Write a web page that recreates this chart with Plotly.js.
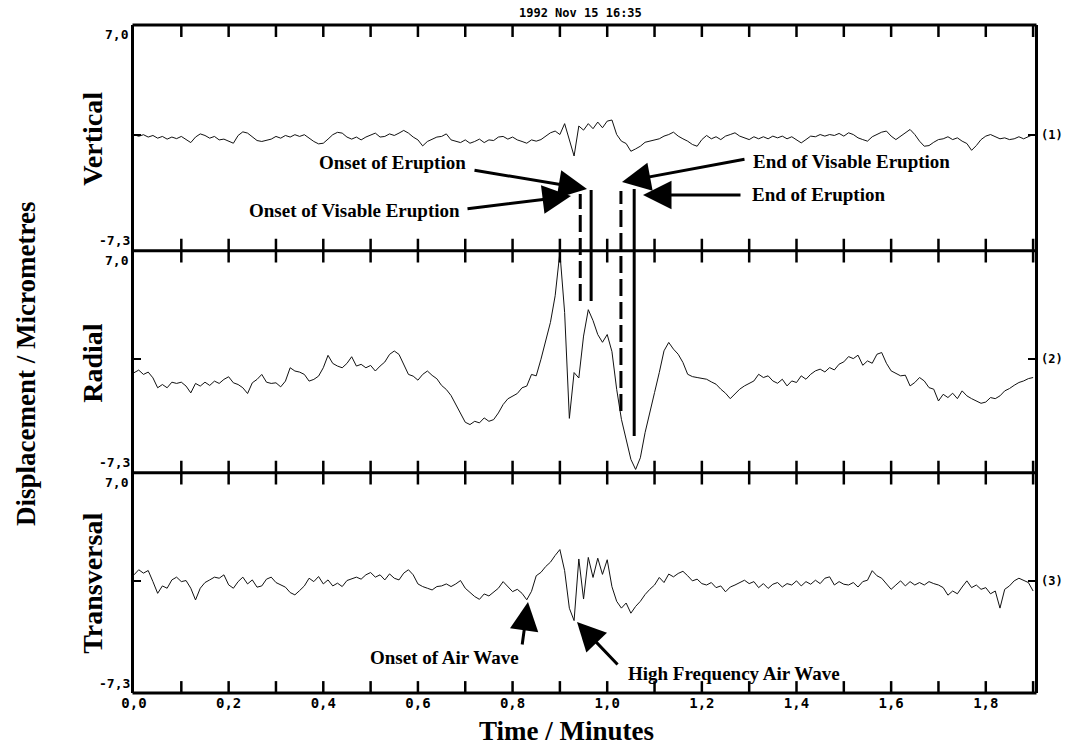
<!DOCTYPE html>
<html><head><meta charset="utf-8">
<script src="https://cdn.plot.ly/plotly-3.0.1.min.js"></script>
<style>html,body{margin:0;padding:0;background:#fff}#chart{width:1069px;height:748px}</style>
</head><body><div id="chart"></div>
<script>
// ---- data (minutes after 1992 Nov 15 16:35, displacement in micrometres) ----
const sampleStep = 0.01;
const vertical = [
0.05,-0.05,0.05,-0.1,0.0,-0.17,-0.06,-0.23,-0.1,-0.2,
-0.06,-0.28,-0.45,-0.1,0.1,0.0,-0.17,-0.06,-0.28,-0.23,
-0.38,-0.49,0.0,0.23,0.15,-0.1,-0.32,-0.38,-0.28,-0.23,
-0.06,-0.17,0.0,-0.1,0.05,-0.06,0.05,-0.17,-0.38,-0.53,
-0.49,-0.23,0.05,0.2,0.15,-0.1,-0.23,-0.1,-0.28,-0.1,
0.05,0.15,-0.1,-0.06,0.1,0.0,0.15,0.32,0.15,-0.1,
-0.28,-0.66,-0.38,-0.23,-0.1,-0.06,0.1,-0.28,-0.38,-0.45,
-0.28,-0.49,-0.38,-0.23,-0.45,-0.28,-0.32,-0.1,-0.06,-0.23,
-0.1,-0.28,-0.38,-0.49,-0.28,-0.36,-0.26,-0.04,0.17,0.28,
0.06,0.75,-0.2,-1.3,0.6,0.34,0.75,0.43,0.85,0.49,
0.91,0.98,0.06,-0.36,-0.51,-1.0,-0.85,-0.68,-0.43,-0.36,
-0.26,-0.21,-0.04,0.06,0.21,-0.04,-0.21,-0.36,-0.57,-0.68,
-0.26,0.0,-0.21,-0.08,-0.26,-0.04,0.06,0.17,-0.04,-0.15,
-0.26,-0.08,-0.21,-0.08,-0.21,-0.04,-0.15,-0.04,-0.21,-0.08,
-0.26,-0.47,-0.26,-0.04,-0.08,0.06,-0.04,0.06,0.0,0.13,
-0.04,0.17,0.06,-0.15,-0.26,-0.36,-0.08,0.06,0.21,0.28,
-0.04,-0.26,-0.04,0.21,0.38,0.06,-0.36,-0.68,-0.64,-0.43,
-0.26,-0.21,-0.08,-0.26,-0.15,-0.36,-0.51,-0.94,-0.64,-0.26,
-0.04,0.06,-0.08,-0.21,-0.15,-0.26,-0.21,-0.08,-0.21,-0.08,
0.06];
const radial = [
-0.86,-0.69,-0.97,-0.82,-1.19,-1.83,-1.62,-1.83,-1.47,-1.55,
-1.47,-1.72,-2.16,-1.55,-1.72,-1.47,-1.68,-1.4,-1.55,-1.29,
-1.12,-1.51,-1.62,-1.83,-2.2,-1.51,-1.29,-0.97,-1.47,-1.55,
-1.51,-1.77,-1.4,-0.54,-0.75,-0.82,-0.97,-1.4,-1.29,-1.08,
-0.54,0.26,-0.26,-0.43,-0.54,-0.26,0.17,-0.43,-0.32,-0.54,
-0.39,-0.75,-0.43,-0.17,0.32,0.54,0.32,-0.32,-0.97,-1.08,
-1.34,-0.97,-0.75,-1.03,-1.25,-1.68,-1.94,-2.33,-2.91,-3.45,
-4.05,-4.2,-3.99,-4.09,-3.77,-3.99,-3.88,-3.45,-2.91,-2.54,
-2.37,-2.2,-1.83,-1.72,-0.97,-1.06,0.01,1.3,2.38,4.1,
6.9,3.02,-3.8,-0.85,-1.2,1.5,3.2,2.5,1.6,1.1,
1.6,0.5,-1.93,-3.86,-5.15,-6.44,-7.09,-6.34,-4.72,-3.32,
-2.14,-0.85,0.55,1.09,0.66,0.33,-0.2,-0.96,-1.11,-1.17,
-1.24,-1.28,-1.45,-1.6,-1.92,-2.18,-2.53,-2.25,-1.92,-1.71,
-1.54,-1.39,-0.96,-1.17,-1.06,-1.39,-1.54,-1.28,-1.71,-1.39,
-1.49,-1.06,-1.28,-0.96,-0.74,-0.63,-0.81,-0.53,-0.68,-0.31,
-0.16,0.18,0.05,0.27,-0.38,-0.1,-0.25,0.33,0.44,-0.25,
-0.74,-0.89,-1.06,-1.02,-1.71,-1.49,-1.17,-1.39,-1.82,-1.92,
-2.68,-2.25,-2.46,-2.18,-2.53,-2.03,-2.35,-2.53,-2.68,-2.83,
-2.75,-2.46,-2.53,-2.35,-2.03,-1.88,-1.67,-1.49,-1.39,-1.24,
-1.17];
const transversal = [
0.37,0.7,0.48,0.65,-0.07,-0.83,-0.35,-0.5,0.04,0.22,
-0.07,0.0,-0.5,-1.26,-0.5,-0.13,0.04,0.22,0.15,0.37,
-0.28,-0.5,-0.07,0.22,-0.22,0.04,-0.43,-0.35,0.09,0.22,
-0.13,-0.28,-0.43,-0.78,-0.93,-0.65,-0.35,0.15,-0.07,0.26,
-0.22,0.04,-0.35,-0.17,-0.39,0.0,0.09,0.22,0.09,0.37,
0.52,0.22,0.37,0.04,0.43,0.15,0.04,0.48,0.7,0.37,
-0.22,-0.39,-0.5,-0.61,-0.39,-0.35,-0.22,-0.39,-0.22,0.0,
-0.5,-0.78,-1.04,-1.22,-0.87,-1.0,-0.72,-0.5,-0.07,-0.39,
-0.72,-0.57,-0.83,-1.25,-0.7,0.31,0.53,0.91,1.19,1.63,
2.01,0.64,-1.8,-2.6,1.4,-1.2,1.5,0.2,1.45,0.4,
1.35,-0.4,-1.35,-1.79,-1.46,-2.12,-1.68,-1.35,-0.91,-0.57,
-0.29,0.2,-0.13,0.42,0.24,0.46,0.6,0.31,-0.02,0.09,
-0.2,-0.29,-0.13,-0.46,-0.35,-0.73,-0.42,-0.29,-0.13,0.02,
-0.2,-0.07,-0.46,-0.2,-0.51,-0.24,-0.13,-0.42,-0.2,-0.29,
-0.02,-0.35,-0.07,-0.24,0.02,-0.2,0.15,0.24,-0.29,-0.07,
-0.24,-0.29,-0.13,-0.42,-0.07,0.02,0.64,0.31,0.15,-0.2,
-0.57,-0.29,-0.02,-0.35,-0.07,-0.29,-0.13,-0.29,-0.07,-0.2,
-0.29,-0.46,-0.95,-0.68,-0.86,-0.42,-0.02,-0.46,-0.29,-0.57,
-0.46,-0.86,-0.68,-1.79,-0.57,-0.35,-0.02,0.15,0.02,-0.13,
-0.68];
const componentNames = ['Vertical', 'Radial', 'Transversal'];
const componentIds = ['(1)', '(2)', '(3)'];
const eventTimes = [0.943, 0.966, 1.029, 1.057];   // onset visible, onset, end visible, end
const eventDashed = [true, false, true, false];
const xTickVals = [0,0.1,0.2,0.3,0.4,0.5,0.6,0.7,0.8,0.9,1.0,1.1,1.2,1.3,1.4,1.5,1.6,1.7,1.8,1.9];
const xTickText = ['0,0','','0,2','','0,4','','0,6','','0,8','','1,0','','1,2','','1,4','','1,6','','1,8',''];
const yMin = -7.3, yMax = 7.0;
const yMinLabel = '-7,3', yMaxLabel = '7,0';
const stampText = '1992 Nov 15 16:35';

const time = vertical.map((_, i) => +(i * sampleStep).toFixed(2));

// ---- layout geometry ----
const W = 1069, H = 748, L = 134, R = 34, T = 25, B = 55;
const PW = W - L - R, PH = H - T - B;
const px = v => (v - L) / PW;
const py = v => (H - B - v) / PH;
const panelEdges = [[25, 250.7], [250.7, 472.7], [472.7, 693]];   // top, middle, bottom (pixel)
const axisIds = ['3', '2', ''];   // top panel -> y3, middle -> y2, bottom -> y
const serif = 'Liberation Serif, Times New Roman, serif';
const mono = 'DejaVu Sans Mono, monospace';

const series = [vertical, radial, transversal];
const traces = series.map((vals, i) => ({
  x: time, y: vals, type: 'scatter', mode: 'lines',
  xaxis: 'x' + axisIds[i], yaxis: 'y' + axisIds[i],
  line: {color: '#111', width: 1}, hoverinfo: 'skip', showlegend: false
}));

// time ticks: vertical-bar markers sitting on the top and bottom edge of each panel (clipped to inside)
panelEdges.forEach(([top, bot], i) => {
  const tx = [], ty = [];
  xTickVals.forEach(t => { if (t > 0) { tx.push(t, t); ty.push(yMax, yMin); } });
  traces.push({x: tx, y: ty, type: 'scatter', mode: 'markers', cliponaxis: true,
    xaxis: 'x' + axisIds[i], yaxis: 'y' + axisIds[i],
    marker: {symbol: 'line-ns', size: 17, color: '#000', line: {color: '#000', width: 2.5}},
    hoverinfo: 'skip', showlegend: false});
});

const layout = {
  width: W, height: H, margin: {l: L, r: R, t: T, b: B},
  paper_bgcolor: '#fff', plot_bgcolor: '#fff', showlegend: false,
  shapes: [], annotations: []
};

const xBase = {
  range: [0, 1.904], tickvals: xTickVals, ticktext: xTickText.map(s => s ? '<b>' + s + '</b>' : ''),
  ticks: '', showline: false, showgrid: false, zeroline: false, fixedrange: true
};
const yBase = {
  range: [yMin, yMax], tickvals: [0], ticktext: [''], ticks: 'inside', ticklen: 7,
  tickwidth: 2, tickcolor: '#000', showline: true, linewidth: 3, linecolor: '#000',
  mirror: 'ticks', showgrid: false, zeroline: false, fixedrange: true
};

panelEdges.forEach(([top, bot], i) => {
  const id = axisIds[i];
  const xName = 'xaxis' + id, yName = 'yaxis' + id;
  layout[xName] = Object.assign({}, xBase, {
    anchor: 'y' + id,
    showticklabels: id === '',
    tickfont: {family: mono, size: 14, color: '#000'}
  });
  if (id !== '') layout[xName].matches = 'x';
  layout[yName] = Object.assign({}, yBase, {domain: [py(bot), py(top)], anchor: 'x' + id});

  layout.annotations.push({xref: 'paper', yref: 'paper', x: px(131), y: py(top + 10), xanchor: 'right', yanchor: 'middle',
    text: '<b>' + yMaxLabel + '</b>', showarrow: false, font: {family: mono, size: 13, color: '#000'}});
  layout.annotations.push({xref: 'paper', yref: 'paper', x: px(132), y: py(bot - 10), xanchor: 'right', yanchor: 'middle',
    text: '<b>' + yMinLabel + '</b>', showarrow: false, font: {family: mono, size: 13, color: '#000'}});
  layout.annotations.push({xref: 'paper', yref: 'paper', x: px(93), y: py((top + bot) / 2 + 1), textangle: -90,
    xanchor: 'center', yanchor: 'middle', text: '<b>' + componentNames[i] + '</b>', showarrow: false,
    font: {family: serif, size: 28, color: '#000'}});
  layout.annotations.push({xref: 'paper', yref: 'y' + id, x: px(1039), y: 0, xanchor: 'left', yanchor: 'middle',
    text: '<b>' + componentIds[i] + '</b>', showarrow: false, font: {family: mono, size: 12, color: '#000'}});
});

// horizontal frame lines (top, two panel boundaries, bottom)
[25, 250.7, 472.7, 693].forEach(y => layout.shapes.push({type: 'line', xref: 'paper', yref: 'paper',
  x0: px(132.5), x1: px(1036.5), y0: py(y), y1: py(y), line: {color: '#000', width: 3}}));

// eruption markers
const markerSpans = [[194, 301], [190, 301], [191, 411], [189, 436]];
eventTimes.forEach((t, i) => {
  layout.shapes.push({type: 'line', xref: 'x', yref: 'paper', x0: t, x1: t,
    y0: py(markerSpans[i][1]), y1: py(markerSpans[i][0]),
    line: {color: '#000', width: 3, dash: eventDashed[i] ? '17px,6px' : 'solid'}});
});

// arrows: [tailX, tailY, tipX, tipY] in pixels
const arrows = [[473, 170, 587, 189], [466, 209, 571, 196], [746, 159, 622, 182],
                [742, 195, 643, 195], [522, 646, 528, 602], [619, 666, 577, 622]];
arrows.forEach(a => layout.annotations.push({
  xref: 'paper', yref: 'paper', x: px(a[2]), y: py(a[3]), ax: a[0] - a[2], ay: a[1] - a[3],
  text: '', showarrow: true, arrowhead: 2, arrowsize: 1.9, arrowwidth: 3, arrowcolor: '#000',
  standoff: 0, startstandoff: 0
}));

// labels: [text, centerX, centerY]
const notes = [['Onset of Eruption', 392, 162], ['Onset of Visable Eruption', 354, 210],
               ['End of Visable Eruption', 851, 161], ['End of Eruption', 818, 195],
               ['Onset of Air Wave', 444, 657], ['High Frequency Air Wave', 734, 673]];
notes.forEach(n => layout.annotations.push({
  xref: 'paper', yref: 'paper', x: px(n[1]), y: py(n[2]), xanchor: 'center', yanchor: 'middle',
  text: '<b>' + n[0] + '</b>', showarrow: false, font: {family: serif, size: 19, color: '#000'}
}));

layout.annotations.push({xref: 'paper', yref: 'paper', x: px(580), y: py(13), xanchor: 'center', yanchor: 'middle',
  text: '<b>' + stampText + '</b>', showarrow: false, font: {family: mono, size: 12, color: '#000'}});
layout.annotations.push({xref: 'paper', yref: 'paper', x: px(26), y: py(364), textangle: -90,
  xanchor: 'center', yanchor: 'middle', text: '<b>Displacement / Micrometres</b>', showarrow: false,
  font: {family: serif, size: 27, color: '#000'}});
layout.annotations.push({xref: 'paper', yref: 'paper', x: px(566), y: py(731), xanchor: 'center', yanchor: 'middle',
  text: '<b>Time / Minutes</b>', showarrow: false, font: {family: serif, size: 27, color: '#000'}});

Plotly.newPlot('chart', traces, layout, {staticPlot: true, displayModeBar: false});
</script></body></html>
